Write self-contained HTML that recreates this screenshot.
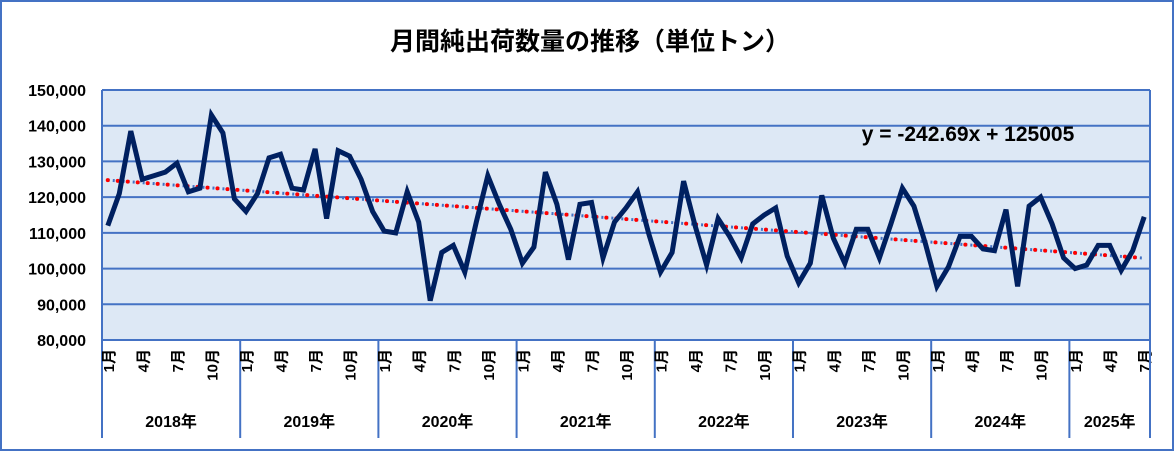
<!DOCTYPE html>
<html><head><meta charset="utf-8"><style>
body{margin:0;background:#fff;}
svg text{font-family:"Liberation Sans","Noto Sans CJK JP",sans-serif;}
</style></head><body>
<svg width="1174" height="451" viewBox="0 0 1174 451">
<rect x="1" y="1" width="1172" height="449" fill="#fff" stroke="#4472c4" stroke-width="2"/>
<text x="590" y="50" font-size="25" font-weight="bold" text-anchor="middle">月間純出荷数量の推移（単位トン）</text>
<rect x="102" y="90" width="1048" height="250" fill="#dde8f5"/>
<g id="grid"></g><g id="ylabels"></g><g id="xaxis"></g><g id="trend"></g><g id="series"></g>
<text x="968" y="141" font-size="21" font-weight="bold" text-anchor="middle">y = -242.69x + 125005</text>
</svg>
<script>
const years=["2018年","2019年","2020年","2021年","2022年","2023年","2024年","2025年"];
const monthsPerYear=[12,12,12,12,12,12,12,7];
const yTicks=[80000,90000,100000,110000,120000,130000,140000,150000];
const values=[112000,121000,138500,125000,126000,127000,129500,121500,122500,143000,138000,119500,
116000,121000,131000,132000,122500,122000,133500,114000,133000,131500,125000,116000,
110500,110000,121500,113000,91000,104500,106500,99000,113000,126000,118000,111000,
101500,106000,127000,118000,102500,118000,118500,103000,113000,117000,121500,109500,
99000,104500,124500,112000,101000,114000,109000,103000,112500,115000,117000,103500,
96000,101500,120500,108500,101500,111000,111000,103000,112500,122500,117500,107000,
95000,100500,109000,109000,105500,105000,116500,95000,117500,120000,112500,103000,
100000,101000,106500,106500,99500,105000,114500];
const trendSlope=-242.69, trendIntercept=125005;
const NS="http://www.w3.org/2000/svg";
const L=102,R=1150,T=90,B=340,ymin=80000,ymax=150000;
const n=values.length, step=(R-L)/n;
const xs=i=>L+step*(i+0.5);
const ys=v=>B-(v-ymin)/(ymax-ymin)*(B-T);
function mk(tag,parent,attrs){const e=document.createElementNS(NS,tag);for(const k in attrs)e.setAttribute(k,attrs[k]);document.getElementById(parent).appendChild(e);return e;}
yTicks.forEach(v=>{
 const g=mk('line','grid',{x1:L,x2:R,y1:ys(v),y2:ys(v),stroke:'#4472c4','stroke-width':2});
 
 
 const t=mk('text','ylabels',{x:86,y:ys(v)+6,'font-size':16,'font-weight':'bold','text-anchor':'end'});
 t.textContent=v.toLocaleString('en-US');
 
 
});
const lft=mk('line','grid',{x1:L,x2:L,y1:T,y2:B,stroke:'#4472c4','stroke-width':2});


const rt=mk('line','grid',{x1:R,x2:R,y1:T,y2:B,stroke:'#4472c4','stroke-width':2});


let idx=0;
years.forEach((y,yi)=>{
 const x0=L+idx*step, m=monthsPerYear[yi];
 const sep=mk('line','xaxis',{x1:x0,x2:x0,y1:B,y2:438,stroke:'#4472c4','stroke-width':2});
 
 
 [1,4,7,10].forEach(mo=>{
  if(mo>m)return;
  const cx=xs(idx+mo-1)+6, cy=349;
  const t=mk('text','xaxis',{x:cx,y:cy,'font-size':15,'font-weight':'bold','text-anchor':'end',transform:`rotate(-90 ${cx} ${cy})`});
  t.textContent=mo+'月';
  
  
 });
 const yt=mk('text','xaxis',{x:x0+m*step/2,y:427,'font-size':16,'font-weight':'bold','text-anchor':'middle'});
 yt.textContent=y;
 
 
 idx+=m;
});
const endSep=mk('line','xaxis',{x1:R,x2:R,y1:B,y2:438,stroke:'#4472c4','stroke-width':2});


const tx1=xs(0),tx2=xs(n-1);
const tl=mk('line','trend',{x1:tx1,y1:ys(trendIntercept+trendSlope*1),x2:tx2,y2:ys(trendIntercept+trendSlope*n),stroke:'#4472c4','stroke-width':3,'stroke-dasharray':'2 3'});


const tl2=mk('line','trend',{x1:tx1,y1:ys(trendIntercept+trendSlope*1),x2:tx2,y2:ys(trendIntercept+trendSlope*n),stroke:'#ff0000','stroke-width':4,'stroke-linecap':'round','stroke-dasharray':'0 10'});


const p=mk('polyline','series',{points:values.map((v,i)=>xs(i).toFixed(1)+','+ys(v).toFixed(1)).join(' '),fill:'none',stroke:'#002060','stroke-width':5,'stroke-linejoin':'miter'});


</script>
</body></html>
